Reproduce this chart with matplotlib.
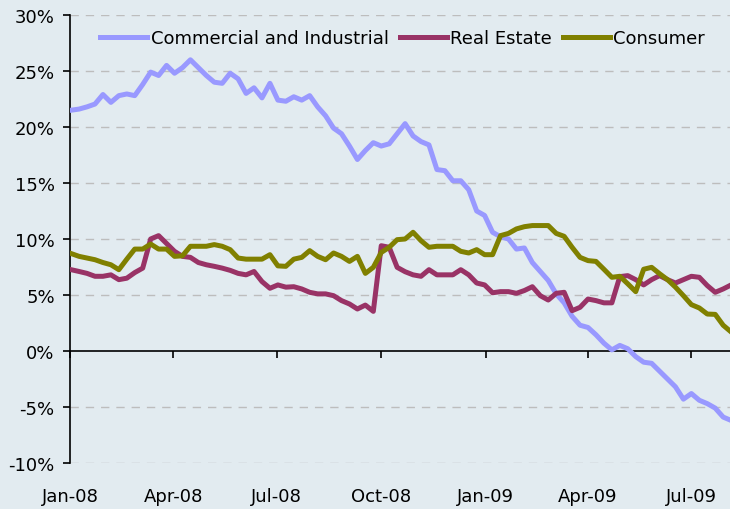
import matplotlib
matplotlib.use("Agg")
import matplotlib.pyplot as plt
import matplotlib.dates as mdates
import matplotlib.ticker as mticker
import numpy as np
import pandas as pd

plt.rcParams['font.family'] = ['DejaVu Sans']

dates = pd.date_range("2008-01-02", periods=84, freq="7D")

commercial_industrial = [
    21.5, 21.6, 21.8, 22.05, 22.9, 22.2, 22.8, 22.95, 22.8, 23.8,
    24.9, 24.6, 25.5, 24.8, 25.3, 26.0, 25.3, 24.6, 24.0, 23.9,
    24.8, 24.3, 23.0, 23.5, 22.6, 23.9, 22.4, 22.3, 22.7, 22.4,
    22.8, 21.8, 21.0, 19.9, 19.4, 18.3, 17.1, 17.9, 18.6, 18.3,
    18.5, 19.4, 20.3, 19.2, 18.7, 18.4, 16.2, 16.1, 15.2, 15.2,
    14.4, 12.5, 12.1, 10.6, 10.2, 10.0, 9.1, 9.2, 7.9, 7.1,
    6.3, 5.1, 4.3, 3.1, 2.3, 2.1, 1.45, 0.7, 0.1, 0.5,
    0.2, -0.5, -1.0, -1.1, -1.8, -2.5, -3.2, -4.3, -3.8, -4.4,
    -4.7, -5.1, -5.9, -6.2,
]

real_estate = [
    7.26, 7.1, 6.93, 6.67, 6.67, 6.8, 6.37, 6.5, 7.0, 7.4,
    10.0, 10.3, 9.6, 8.9, 8.45, 8.36, 7.9, 7.7, 7.56, 7.4,
    7.2, 6.93, 6.8, 7.1, 6.2, 5.6, 5.9, 5.7, 5.74, 5.54,
    5.24, 5.1, 5.1, 4.94, 4.5, 4.2, 3.75, 4.1, 3.54, 9.4,
    9.26, 7.47, 7.08, 6.8, 6.67, 7.26, 6.8, 6.8, 6.8, 7.26,
    6.8, 6.07, 5.9, 5.2, 5.3, 5.3, 5.15, 5.4, 5.74, 4.94,
    4.55, 5.15, 5.24, 3.6, 3.9, 4.64, 4.5, 4.3, 4.3, 6.64,
    6.73, 6.37, 5.9, 6.37, 6.73, 6.37, 6.07, 6.37, 6.67, 6.58,
    5.84, 5.24, 5.54, 5.9,
]

consumer = [
    8.7, 8.45, 8.3, 8.15, 7.9, 7.7, 7.26, 8.2, 9.1, 9.1,
    9.55, 9.1, 9.1, 8.45, 8.5, 9.35, 9.35, 9.35, 9.5, 9.35,
    9.05, 8.3, 8.2, 8.2, 8.2, 8.6, 7.6, 7.56, 8.2, 8.36,
    8.96, 8.45, 8.15, 8.75, 8.45, 8.0, 8.45, 6.93, 7.47, 8.8,
    9.26, 9.94, 10.0, 10.6, 9.85, 9.26, 9.35, 9.35, 9.35, 8.9,
    8.75, 9.05, 8.6, 8.6, 10.3, 10.5, 10.9, 11.1, 11.2, 11.2,
    11.2, 10.5, 10.24, 9.26, 8.36, 8.07, 8.0, 7.3, 6.58, 6.67,
    6.0, 5.3, 7.3, 7.47, 6.9, 6.37, 5.7, 4.94, 4.14, 3.84,
    3.3, 3.27, 2.3, 1.7,
]

series_names = ["Commercial and Industrial", "Real Estate", "Consumer"]
series_colors = ["#9999FF", "#993366", "#808000"]

tick_dates = pd.to_datetime(["2008-01-01", "2008-04-01", "2008-07-01", "2008-10-01",
                             "2009-01-01", "2009-04-01", "2009-07-01"])
tick_labels = ["Jan-08", "Apr-08", "Jul-08", "Oct-08", "Jan-09", "Apr-09", "Jul-09"]
y_ticks = [-10, -5, 0, 5, 10, 15, 20, 25, 30]

bg = "#E2EBF0"
fig = plt.figure(figsize=(7.3, 5.1), dpi=100, facecolor=bg)
ax = fig.add_axes([70 / 730, 46 / 510, 660 / 730, 448 / 510])
ax.set_facecolor(bg)

for vals, name, col in zip([commercial_industrial, real_estate, consumer], series_names, series_colors):
    ax.plot(dates, vals, color=col, lw=3.6, label=name, solid_joinstyle="round", zorder=3)

ax.set_xlim(pd.Timestamp("2008-01-01"), pd.Timestamp("2009-08-04"))
ax.set_ylim(-10, 30)

ax.set_yticks(y_ticks)
ax.yaxis.set_major_formatter(mticker.FuncFormatter(lambda v, p: f"{v:.0f}%"))
for y in y_ticks:
    if y != 0:
        ax.axhline(y, color="#BDBDBD", lw=1.0, ls=(0, (6, 5)), zorder=1)

for s in ["top", "right"]:
    ax.spines[s].set_visible(False)
ax.spines["left"].set_color("black")
ax.spines["left"].set_linewidth(1.2)
ax.spines["bottom"].set_position(("data", 0))
ax.spines["bottom"].set_color("black")
ax.spines["bottom"].set_linewidth(1.2)
ax.spines["bottom"].set_zorder(2)

ax.set_xticks(tick_dates)
ax.tick_params(axis="x", direction="out", length=5, width=1.2, labelbottom=False)
ax.tick_params(axis="y", direction="out", length=5, width=1.2, labelsize=13, pad=6)

sec = ax.secondary_xaxis(location=0)
sec.spines["bottom"].set_visible(False)
sec.set_xticks(tick_dates)
sec.set_xticklabels(tick_labels)
sec.tick_params(axis="x", length=0, labelsize=13, pad=17)

leg = ax.legend(loc="upper left", bbox_to_anchor=(0.035, 0.985), ncol=3, frameon=False,
                fontsize=13, handlelength=2.6, handletextpad=0.2, columnspacing=0.6,
                borderaxespad=0)

fig.savefig("out.png", dpi=100, facecolor=bg)
